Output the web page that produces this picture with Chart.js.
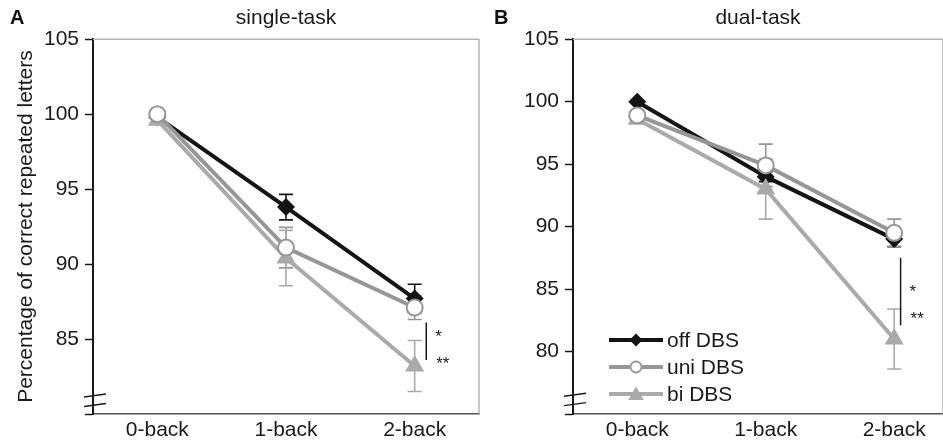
<!DOCTYPE html>
<html>
<head>
<meta charset="utf-8">
<script src="https://cdn.jsdelivr.net/npm/chart.js@4.4.1/dist/chart.umd.min.js"></script>
<style>
html,body{margin:0;padding:0;background:#fff;width:943px;height:444px;overflow:hidden;}
#wrap{position:relative;width:943px;height:444px;}
canvas{position:absolute;top:0;}
#cA{left:0;}
#cB{left:480px;}
.plabel{position:absolute;top:6px;font:bold 20px "Liberation Sans",Arial,sans-serif;color:#111;}
</style>
</head>
<body>
<div id="wrap">
  <canvas id="cA" width="480" height="444"></canvas>
  <canvas id="cB" width="463" height="444"></canvas>
  <div class="plabel" style="left:10px">A</div>
  <div class="plabel" style="left:494px">B</div>
</div>
<script>
// ---------- data ----------
const categories = ['0-back', '1-back', '2-back'];
const seriesNames = ['off DBS', 'uni DBS', 'bi DBS'];
const panelTitles = ['single-task', 'dual-task'];
const yAxisTitle = 'Percentage of correct repeated letters';

// single-task (panel A)
const singleOff = [99.8, 93.8, 87.7];
const singleUni = [100.0, 91.1, 87.1];
const singleBi = [99.6, 90.4, 83.2];
const singleOffErr = [0, 0.85, 0.95];
const singleUniErr = [0, 1.35, 0.8];
const singleBiErr = [0, 1.85, 1.7];
const singleYRange = [80, 105];
const singleBreak = [81.23, 80.6];
const singleSigLine = [2.09, 86.1, 83.6];
const singleSigMarks = ['*', '**'];
const singleSigMarkY = [85.5, 83.7];

// dual-task (panel B)
const dualOff = [100.0, 94.0, 89.0];
const dualUni = [98.9, 94.9, 89.5];
const dualBi = [98.6, 93.0, 81.0];
const dualOffErr = [0, 0.4, 0.6];
const dualUniErr = [0, 1.7, 1.1];
const dualBiErr = [0, 2.4, 2.4];
const dualYRange = [75, 105];
const dualBreak = [76.54, 75.79];
const dualSigLine = [2.05, 87.5, 82.1];
const dualSigMarks = ['*', '**'];
const dualSigMarkY = [85.2, 83.0];

// ---------- styles ----------
const FONT = '"Liberation Sans", Arial, Helvetica, sans-serif';
Chart.defaults.font.family = FONT;
Chart.defaults.color = '#1a1a1a';
const seriesColors = ['#141414', '#969696', '#aaaaaa'];
const seriesStyles = ['rectRot', 'circle', 'triangle'];
const seriesRadius = [9, 8, 11];
const seriesFill = ['#141414', '#ffffff', '#aaaaaa'];
const seriesOrder = [2, 0, 1];

function toPts(arr) { return arr.map((v, i) => ({x: i, y: v})); }

function drawMarker(ctx, style, x, y, r, fill, stroke, bw) {
  ctx.save();
  ctx.fillStyle = fill; ctx.strokeStyle = stroke; ctx.lineWidth = bw;
  ctx.beginPath();
  if (style === 'rectRot') {
    ctx.moveTo(x, y - r); ctx.lineTo(x + r, y); ctx.lineTo(x, y + r); ctx.lineTo(x - r, y); ctx.closePath();
  } else if (style === 'circle') {
    ctx.arc(x, y, r, 0, Math.PI * 2);
  } else {
    const w = r * Math.sin(Math.PI / 3);
    ctx.moveTo(x, y - r); ctx.lineTo(x + w, y + r / 2); ctx.lineTo(x - w, y + r / 2); ctx.closePath();
  }
  ctx.fill(); if (bw > 0) ctx.stroke();
  ctx.restore();
}

const errorBarPlugin = {
  id: 'errorBars',
  beforeDatasetsDraw(chart) {
    const {ctx, scales: {x, y}} = chart;
    chart.data.datasets.forEach(ds => {
      ctx.save();
      ctx.strokeStyle = ds.errorColor; ctx.lineWidth = 1.6;
      ds.data.forEach((p, j) => {
        const e = ds.errors[j]; if (!e) return;
        const px = x.getPixelForValue(p.x);
        const yt = y.getPixelForValue(p.y + e), yb = y.getPixelForValue(p.y - e);
        ctx.beginPath();
        ctx.moveTo(px, yt); ctx.lineTo(px, yb);
        ctx.moveTo(px - 7, yt); ctx.lineTo(px + 7, yt);
        ctx.moveTo(px - 7, yb); ctx.lineTo(px + 7, yb);
        ctx.stroke();
      });
      ctx.restore();
    });
  }
};

const framePlugin = {
  id: 'frame',
  beforeDatasetsDraw(chart, args, opts) {
    const {ctx, chartArea: a, scales: {y}} = chart;
    ctx.save();
    ctx.strokeStyle = '#b4b4b4'; ctx.lineWidth = 1.5;
    ctx.beginPath();
    ctx.moveTo(a.left, a.top); ctx.lineTo(a.right, a.top); ctx.lineTo(a.right, a.bottom);
    ctx.stroke();
    // axis break marks
    ctx.strokeStyle = '#1a1a1a'; ctx.lineWidth = 1.4;
    opts.breaks.forEach(v => {
      const py = y.getPixelForValue(v);
      ctx.beginPath();
      ctx.moveTo(a.left - 9, py + 1.5); ctx.lineTo(a.left + 13, py - 1.5);
      ctx.stroke();
    });
    ctx.restore();
  },
  afterDatasetsDraw(chart, args, opts) {
    const {ctx, scales: {x, y}} = chart;
    const s = opts.sig;
    ctx.save();
    ctx.strokeStyle = '#1a1a1a'; ctx.lineWidth = 1.5;
    const px = x.getPixelForValue(s.line[0]);
    ctx.beginPath();
    ctx.moveTo(px, y.getPixelForValue(s.line[1]));
    ctx.lineTo(px, y.getPixelForValue(s.line[2]));
    ctx.stroke();
    ctx.fillStyle = '#1a1a1a';
    ctx.font = '17px ' + FONT;
    ctx.textAlign = 'left'; ctx.textBaseline = 'alphabetic';
    s.marks.forEach((m, i) => {
      ctx.fillText(m, px + 9 + (i === 1 && s.shift ? s.shift : 0), y.getPixelForValue(s.markY[i]) + 10);
    });
    ctx.restore();
    // legend
    if (opts.legend) {
      const a = chart.chartArea;
      const x0 = a.left + 36, x1 = x0 + 54;
      ctx.save();
      chart.data.datasets.forEach((ds, i) => {
        const yy = a.bottom - 74 + i * 27;
        ctx.strokeStyle = ds.borderColor; ctx.lineWidth = 4;
        ctx.beginPath(); ctx.moveTo(x0, yy); ctx.lineTo(x1, yy); ctx.stroke();
        const lr = [6.5, 5.5, 9][i];
        drawMarker(ctx, ds.pointStyle, (x0 + x1) / 2, yy + (i === 2 ? 1.5 : 0), lr, ds.pointBackgroundColor, ds.pointBorderColor, i === 1 ? 1.8 : 0);
        ctx.fillStyle = '#1a1a1a';
        ctx.font = '21px ' + FONT;
        ctx.textAlign = 'left'; ctx.textBaseline = 'middle';
        ctx.fillText(ds.label, x1 + 4, yy + 1);
      });
      ctx.restore();
    }
  }
};

function makePanel(id, title, vals, errs, yRange, xMax, breaks, sigLine, sigMarks, sigMarkY, showLegend) {
  const datasets = vals.map((v, i) => ({
    label: seriesNames[i],
    data: toPts(v),
    errors: errs[i],
    errorColor: seriesColors[i],
    borderColor: seriesColors[i],
    backgroundColor: seriesColors[i],
    borderWidth: 4,
    pointStyle: seriesStyles[i],
    pointRadius: seriesRadius[i],
    pointBackgroundColor: seriesFill[i],
    pointBorderColor: seriesColors[i],
    pointBorderWidth: i === 1 ? 2 : 0,
    order: seriesOrder[i],
    tension: 0,
    clip: false
  }));
  return new Chart(document.getElementById(id), {
    type: 'line',
    data: {datasets},
    options: {
      responsive: false,
      animation: false,
      events: [],
      layout: {autoPadding: false, padding: {left: 0, right: id === 'cA' ? 1 : 0, top: 0, bottom: 0}},
      plugins: {
        legend: {display: false},
        tooltip: {enabled: false},
        title: {
          display: true, text: title, fullSize: false,
          font: {size: 21, weight: 'normal'}, color: '#1a1a1a',
          padding: {top: 6, bottom: 8}
        },
        frame: {
          breaks: breaks,
          sig: {line: sigLine, marks: sigMarks, markY: sigMarkY, shift: 1},
          legend: showLegend
        }
      },
      scales: {
        x: {
          type: 'linear', min: -0.5, max: xMax,
          afterBuildTicks: s => { s.ticks = categories.map((c, i) => ({value: i})); },
          afterFit: s => { s.height = 30; },
          ticks: {
            callback: v => categories[v],
            font: {size: 21}, color: '#1a1a1a', padding: 4,
            autoSkip: false, maxRotation: 0
          },
          grid: {display: true, drawOnChartArea: false, drawTicks: false, color: 'rgba(0,0,0,0)'},
          border: {display: true, color: '#555555', width: 1.6}
        },
        y: {
          type: 'linear', min: yRange[0], max: yRange[1],
          afterFit: s => { s.width = 93; },
          ticks: {
            stepSize: 5,
            callback: v => (v === yRange[0] ? '' : v),
            font: {size: 21}, color: '#1a1a1a', padding: 6
          },
          grid: {display: true, drawOnChartArea: false, drawTicks: true, tickLength: 8, tickColor: '#1a1a1a', tickWidth: 1.5},
          border: {display: true, color: '#1a1a1a', width: 2},
          title: {display: id === 'cA', text: yAxisTitle, font: {size: 21}, color: '#1a1a1a', padding: {top: 14, bottom: 0}}
        }
      }
    },
    plugins: [errorBarPlugin, framePlugin]
  });
}

makePanel('cA', panelTitles[0],
  [singleOff, singleUni, singleBi], [singleOffErr, singleUniErr, singleBiErr],
  singleYRange, 2.5, singleBreak, singleSigLine, singleSigMarks, singleSigMarkY, false);
makePanel('cB', panelTitles[1],
  [dualOff, dualUni, dualBi], [dualOffErr, dualUniErr, dualBiErr],
  dualYRange, 2.38, dualBreak, dualSigLine, dualSigMarks, dualSigMarkY, true);
</script>
</body>
</html>
